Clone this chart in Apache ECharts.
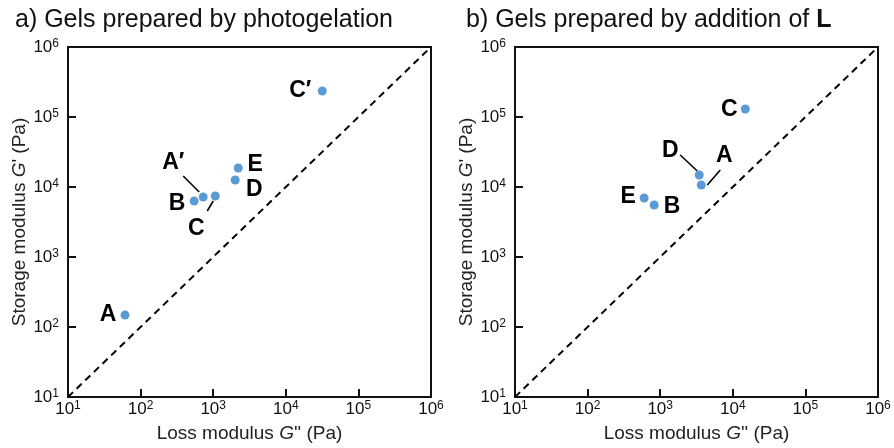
<!DOCTYPE html>
<html>
<head>
<meta charset="utf-8">
<script src="https://cdn.jsdelivr.net/npm/echarts@6/dist/echarts.min.js"></script>
<style>
html,body{margin:0;padding:0;background:#fff;}
#chart{width:894px;height:448px;}
</style>
</head>
<body>
<div id="chart"></div>
<script>
// ---- data ----
const panelA_names   = ['A', 'A\u2032', 'B', 'C', 'D', 'E', 'C\u2032'];
const panelA_loss    = [61, 728, 547, 1067, 2010, 2213, 31800];      // G'' (Pa)
const panelA_storage = [148, 7200, 6310, 7430, 12600, 18660, 235000]; // G' (Pa)

const panelB_names   = ['A', 'B', 'C', 'D', 'E'];
const panelB_loss    = [3680, 826, 14860, 3450, 601];
const panelB_storage = [10680, 5530, 130000, 14840, 6960];

const axisMin = 10, axisMax = 1000000;
const tickExponents = [1, 2, 3, 4, 5, 6];
const diagonal = [[10, 10], [1000000, 1000000]];

// ---- label placement (pixel offsets from each dot) ----
const panelA_labelOffsets = [[-17, 0], [-30, -34], [-17, 3], [-19, 33], [19, 10], [17, -3], [-22, 0]];
const panelB_labelOffsets = [[23, -29], [18, 2], [-16, 1], [-29, -24], [-16, -1]];
// leader lines: [pointIndex, dx1, dy1, dx2, dy2]
const panelA_leaders = [[1, -20, -21, -4, -5], [3, -2, 5, -8, 15]];
const panelB_leaders = [[3, -19, -20, -2, -4], [0, 6, 0, 19, -15]];

const FONT = 'Liberation Sans, Arial, Helvetica, sans-serif';
const dotColor = '#5b9bd5';

function supLabel(v) {
  const e = Math.round(Math.log10(v));
  if (tickExponents.indexOf(e) < 0) return '';
  return '{b|10}{s|' + e + '}';
}
const tickRich = {
  b: { fontSize: 17, fontFamily: FONT, color: '#111', lineHeight: 18, verticalAlign: 'bottom' },
  s: { fontSize: 12, fontFamily: FONT, color: '#111', lineHeight: 18, verticalAlign: 'top', padding: [0, 0, 6, 0] }
};
const nameRich = {
  i: { fontStyle: 'italic', fontSize: 19, fontFamily: FONT, color: '#222' }
};

function xAxisDef(gi) {
  return {
    type: 'log', logBase: 10, gridIndex: gi, min: axisMin, max: axisMax,
    name: 'Loss modulus {i|G}\'\' (Pa)', nameLocation: 'middle', nameGap: 27,
    nameTextStyle: { fontSize: 19, fontFamily: FONT, color: '#222', rich: nameRich },
    axisLine: { lineStyle: { color: '#111', width: 2 } },
    axisTick: { inside: true, length: 8, lineStyle: { color: '#111', width: 2 } },
    minorTick: { show: false },
    splitLine: { show: false },
    axisLabel: { formatter: supLabel, margin: 3, rich: tickRich, showMinLabel: true, showMaxLabel: true }
  };
}
function yAxisDef(gi) {
  return {
    type: 'log', logBase: 10, gridIndex: gi, min: axisMin, max: axisMax,
    name: 'Storage modulus {i|G}\' (Pa)', nameLocation: 'middle', nameGap: 37,
    nameTextStyle: { fontSize: 19, fontFamily: FONT, color: '#222', rich: nameRich },
    axisLine: { lineStyle: { color: '#111', width: 2 } },
    axisTick: { inside: true, length: 8, lineStyle: { color: '#111', width: 2 } },
    splitLine: { show: false },
    axisLabel: { formatter: supLabel, margin: 9, rich: tickRich, showMinLabel: true, showMaxLabel: true }
  };
}

function scatterData(names, loss, storage, offsets) {
  return names.map((n, i) => ({
    value: [loss[i], storage[i]], name: n,
    label: { offset: offsets[i] }
  }));
}
function scatterSeries(gi, names, loss, storage, offsets) {
  return {
    type: 'scatter', xAxisIndex: gi, yAxisIndex: gi, symbolSize: 9,
    itemStyle: { color: dotColor, opacity: 1 },
    data: scatterData(names, loss, storage, offsets),
    label: {
      show: true, position: 'inside', formatter: p => p.name,
      fontSize: 23, fontWeight: 'bold', fontFamily: FONT, color: '#000'
    },
    emphasis: { disabled: true },
    z: 5
  };
}
function leaderSeries(gi, loss, storage, leaders) {
  return {
    type: 'custom', xAxisIndex: gi, yAxisIndex: gi,
    data: leaders.map(l => [loss[l[0]], storage[l[0]]]),
    renderItem: function (params, api) {
      const p = api.coord([api.value(0), api.value(1)]);
      const l = leaders[params.dataIndex];
      return {
        type: 'line',
        shape: { x1: p[0] + l[1], y1: p[1] + l[2], x2: p[0] + l[3], y2: p[1] + l[4] },
        style: { stroke: '#000', lineWidth: 1.6 }
      };
    },
    silent: true, z: 4
  };
}
function diagSeries(gi) {
  return {
    type: 'line', xAxisIndex: gi, yAxisIndex: gi, data: diagonal,
    symbol: 'none', silent: true,
    lineStyle: { color: '#000', width: 2, type: [7, 5] }, z: 3
  };
}

const chart = echarts.init(document.getElementById('chart'), null, { renderer: 'canvas' });
chart.setOption({
  animation: false,
  backgroundColor: '#fff',
  title: [
    { text: 'a) Gels prepared by photogelation', left: 10, top: 3,
      textStyle: { fontSize: 25, fontWeight: 'normal', fontFamily: FONT, color: '#111' } },
    { text: 'b) Gels prepared by addition of {bb|L}', left: 461, top: 3,
      textStyle: { fontSize: 25, fontWeight: 'normal', fontFamily: FONT, color: '#111',
        rich: { bb: { fontSize: 25, fontWeight: 'bold', fontFamily: FONT, color: '#111' } } } }
  ],
  grid: [
    { left: 68, top: 47, width: 363, height: 351, show: true, borderColor: '#111', borderWidth: 2, backgroundColor: 'transparent' },
    { left: 515, top: 47, width: 363, height: 351, show: true, borderColor: '#111', borderWidth: 2, backgroundColor: 'transparent' }
  ],
  xAxis: [xAxisDef(0), xAxisDef(1)],
  yAxis: [yAxisDef(0), yAxisDef(1)],
  series: [
    diagSeries(0), diagSeries(1),
    leaderSeries(0, panelA_loss, panelA_storage, panelA_leaders),
    leaderSeries(1, panelB_loss, panelB_storage, panelB_leaders),
    scatterSeries(0, panelA_names, panelA_loss, panelA_storage, panelA_labelOffsets),
    scatterSeries(1, panelB_names, panelB_loss, panelB_storage, panelB_labelOffsets)
  ]
});
</script>
</body>
</html>
